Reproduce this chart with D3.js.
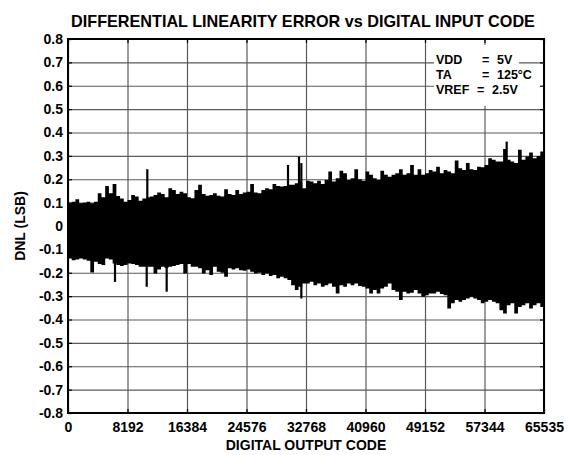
<!DOCTYPE html>
<html><head><meta charset="utf-8">
<script src="https://cdn.jsdelivr.net/npm/d3@7"></script>
<style>
body{margin:0;background:#fff;}
text{font-family:"Liberation Sans",Arial,Helvetica,sans-serif;font-weight:bold;fill:#000;}
</style>
</head><body>
<svg id="c" width="569" height="455"></svg>
<script>
// ---- data ----
const binSize = 512; // codes per envelope bin
const upper = [
0.097,0.104,0.114,0.097,0.100,0.104,0.097,0.104,0.140,0.123,0.171,0.140,0.180,0.128,0.118,0.104,
0.111,0.133,0.126,0.108,0.118,0.123,0.126,0.133,0.143,0.137,0.123,0.161,0.154,0.137,0.147,0.140,
0.123,0.119,0.154,0.176,0.137,0.129,0.133,0.140,0.129,0.126,0.157,0.137,0.133,0.154,0.137,0.143,
0.147,0.180,0.143,0.140,0.154,0.161,0.157,0.180,0.171,0.169,0.171,0.176,0.176,0.183,0.190,0.161,
0.194,0.190,0.183,0.194,0.180,0.197,0.233,0.190,0.204,0.236,0.226,0.197,0.204,0.243,0.200,0.194,
0.233,0.219,0.204,0.197,0.236,0.219,0.211,0.219,0.226,0.243,0.219,0.226,0.261,0.219,0.243,0.219,
0.226,0.240,0.233,0.254,0.226,0.240,0.233,0.226,0.280,0.247,0.240,0.269,0.243,0.240,0.254,0.251,
0.261,0.290,0.283,0.276,0.276,0.329,0.283,0.276,0.269,0.326,0.283,0.297,0.314,0.290,0.300,0.319
];
const lower = [
-0.139,-0.146,-0.143,-0.139,-0.143,-0.149,-0.199,-0.153,-0.163,-0.167,-0.139,-0.143,-0.160,-0.167,-0.171,-0.167,
-0.160,-0.163,-0.167,-0.174,-0.174,-0.174,-0.174,-0.203,-0.186,-0.174,-0.180,-0.174,-0.171,-0.167,-0.163,-0.203,
-0.163,-0.174,-0.174,-0.181,-0.203,-0.189,-0.210,-0.174,-0.196,-0.200,-0.217,-0.181,-0.186,-0.181,-0.189,-0.191,
-0.186,-0.196,-0.203,-0.200,-0.210,-0.203,-0.214,-0.210,-0.224,-0.217,-0.224,-0.231,-0.253,-0.274,-0.260,-0.246,
-0.246,-0.239,-0.253,-0.246,-0.260,-0.253,-0.246,-0.260,-0.289,-0.253,-0.260,-0.246,-0.253,-0.246,-0.257,-0.260,
-0.267,-0.289,-0.274,-0.289,-0.267,-0.260,-0.246,-0.274,-0.281,-0.317,-0.281,-0.289,-0.286,-0.274,-0.289,-0.303,
-0.296,-0.289,-0.289,-0.281,-0.291,-0.296,-0.353,-0.331,-0.317,-0.324,-0.317,-0.310,-0.303,-0.310,-0.317,-0.331,
-0.324,-0.317,-0.324,-0.331,-0.360,-0.374,-0.339,-0.331,-0.374,-0.346,-0.339,-0.331,-0.353,-0.339,-0.331,-0.346
];
const spikeCodes  = [6471, 10835, 10918, 13585, 30290, 31805, 32125, 32125, 60395];
const spikeValues = [-0.239, -0.260, 0.243, -0.281, 0.261, 0.297, 0.269, -0.310, 0.361];

const xTickValues = [0, 8192, 16384, 24576, 32768, 40960, 49152, 57344, 65535];
const xTickLabels = ["0","8192","16384","24576","32768","40960","49152","57344","65535"];
const yTickValues = [0.8,0.7,0.6,0.5,0.4,0.3,0.2,0.1,0,-0.1,-0.2,-0.3,-0.4,-0.5,-0.6,-0.7,-0.8];
const yTickLabels = ["0.8","0.7","0.6","0.5","0.4","0.3","0.2","0.1","0","-0.1","-0.2","-0.3","-0.4","-0.5","-0.6","-0.7","-0.8"];
const legendLabels = ["VDD","TA","VREF"];
const legendValues = ["5V","125°C","2.5V"];
const titleText = "DIFFERENTIAL LINEARITY ERROR vs DIGITAL INPUT CODE";
const xLabelText = "DIGITAL OUTPUT CODE";
const yLabelText = "DNL (LSB)";

// ---- layout ----
const L = 68, T = 39, R = 544, B = 413;
const svg = d3.select("#c");
const x = d3.scaleLinear().domain([0, 65535]).range([L, R]);
const y = d3.scaleLinear().domain([-0.8, 0.8]).range([B, T]);

svg.append("rect").attr("width",569).attr("height",455).attr("fill","#fff");

// grid
const gridColor = "#5a5a5a";
const gx = svg.append("g").attr("transform",`translate(0,${B})`)
  .call(d3.axisBottom(x).tickValues(xTickValues).tickSize(-(B-T)).tickFormat(""));
gx.select(".domain").remove();
gx.selectAll("line").attr("stroke",gridColor).attr("stroke-width",1.2);
const gy = svg.append("g").attr("transform",`translate(${L},0)`)
  .call(d3.axisLeft(y).tickValues(yTickValues).tickSize(-(R-L)).tickFormat(""));
gy.select(".domain").remove();
gy.selectAll("line").attr("stroke",gridColor).attr("stroke-width",1.2);

// data band as a single stepped area
const pts = upper.map((u,i)=>({c:i*binSize, hi:u, lo:lower[i]}));
pts.push({c:65535, hi:upper[upper.length-1], lo:lower[lower.length-1]});
const area = d3.area().curve(d3.curveStepAfter)
  .x(d=>x(d.c)).y0(d=>y(d.lo)).y1(d=>y(d.hi));
svg.append("path").datum(pts).attr("d", area).attr("fill","#000");
svg.append("g").selectAll("line").data(spikeCodes.map((c,i)=>({c, v:spikeValues[i]}))).join("line")
  .attr("x1", d=>x(d.c)).attr("x2", d=>x(d.c))
  .attr("y1", y(0)).attr("y2", d=>y(d.v))
  .attr("stroke","#000").attr("stroke-width",2.2);

// legend text with white backgrounds
const legX = 436, eqX = [482, 482, 477], valX = [497, 497, 492], legY0 = 63.5, legDy = 15;
const bgBoxes = [[434, 45, 85, 22], [434, 65, 110, 22], [434, 84, 101, 22]];
const lg = svg.append("g");
bgBoxes.forEach(b=>lg.append("rect").attr("x",b[0]).attr("y",b[1]).attr("width",b[2]).attr("height",b[3]).attr("fill","#fff"));
legendLabels.forEach((lab,i)=>{
  const t = lg.append("text").attr("y", legY0 + i*legDy).style("font-size","12.5px");
  t.append("tspan").attr("x", legX).text(lab);
  t.append("tspan").attr("x", eqX[i]).text("=");
  t.append("tspan").attr("x", valX[i]).text(legendValues[i]);
});

// axes box + inward ticks on all sides
const tk = 4;
const ab = svg.append("g").attr("transform",`translate(0,${B})`)
  .call(d3.axisTop(x).tickValues(xTickValues).tickSize(tk).tickFormat(""));
const at = svg.append("g").attr("transform",`translate(0,${T})`)
  .call(d3.axisBottom(x).tickValues(xTickValues).tickSize(tk).tickFormat(""));
const al = svg.append("g").attr("transform",`translate(${L},0)`)
  .call(d3.axisRight(y).tickValues(yTickValues).tickSize(tk).tickFormat(""));
const ar = svg.append("g").attr("transform",`translate(${R},0)`)
  .call(d3.axisLeft(y).tickValues(yTickValues).tickSize(tk).tickFormat(""));
[ab,at,al,ar].forEach(g=>{ g.select(".domain").remove(); g.selectAll("line").attr("stroke","#000").attr("stroke-width",1.2); });
svg.append("rect").attr("x",L).attr("y",T).attr("width",R-L).attr("height",B-T)
  .attr("fill","none").attr("stroke","#000").attr("stroke-width",2);

// tick labels
const xl = svg.append("g").attr("transform",`translate(0,${B})`)
  .call(d3.axisBottom(x).tickValues(xTickValues).tickSize(0).tickPadding(9).tickFormat((d,i)=>xTickLabels[i]));
xl.select(".domain").remove();
xl.selectAll("text").style("font-size","14px").attr("fill","#000");
const yl = svg.append("g").attr("transform",`translate(${L},0)`)
  .call(d3.axisLeft(y).tickValues(yTickValues).tickSize(0).tickPadding(5).tickFormat((d,i)=>yTickLabels[i]));
yl.select(".domain").remove();
yl.selectAll("text").style("font-size","14px").attr("fill","#000");
svg.selectAll(".tick text").attr("font-family",null);

// titles
svg.append("text").attr("x",303).attr("y",27).attr("text-anchor","middle").style("font-size","16.2px").text(titleText);
svg.append("text").attr("x",306).attr("y",450).attr("text-anchor","middle").style("font-size","14px").text(xLabelText);
svg.append("text").attr("transform","translate(25,226) rotate(-90)").attr("text-anchor","middle").style("font-size","14px").text(yLabelText);
</script>
</body></html>
